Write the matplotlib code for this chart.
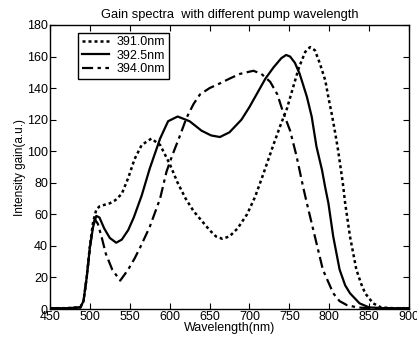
import numpy as np
import matplotlib
matplotlib.use('Agg')
import matplotlib.pyplot as plt

plt.rcParams['font.family'] = ['Liberation Sans', 'DejaVu Sans']

# Dữ liệu
wl_391 = [450, 470, 488, 492, 496, 500, 504, 508, 512, 518, 525, 532, 540, 548, 556, 565,
          577, 588, 600, 610, 620, 630, 640, 650, 658, 666, 675, 685, 697, 707, 717, 730,
          740, 747, 755, 762, 770, 776, 782, 788, 795, 799, 803, 807, 811, 817, 820, 826,
          834, 840, 845, 855, 865, 880, 900]
gain_391 = [0.5, 0.5, 1, 5, 20, 40, 55, 63, 65, 66, 67, 69, 73, 83, 95, 104,
            108, 104, 92, 80, 70, 62, 56, 50, 46, 44.5, 46, 51, 60, 71, 85, 104,
            118, 127, 141, 153, 163, 166, 164, 156, 145, 134, 124, 113, 101, 80, 67, 46,
            25, 16, 10, 3.6, 1, 0.5, 0.5]

wl_392 = [450, 470, 488, 492, 496, 500, 504, 508, 512, 518, 525, 533, 540, 548, 555, 565,
          575, 588, 598, 610, 625, 640, 652, 663, 675, 690, 700, 710, 720, 730, 740, 746,
          751, 757, 763, 772, 778, 784, 791, 795, 799, 805, 813, 820, 826, 838, 850, 870, 900]
gain_392 = [0.5, 0.5, 1, 5, 20, 39, 52, 59, 58, 51, 45, 42, 44, 50, 58, 72,
            89, 108, 119, 122, 119, 113, 110, 109, 112, 120, 128, 137, 146, 153, 159, 161,
            160, 156, 149, 134.5, 122, 103, 88, 77, 67, 46, 25, 15, 10, 3.6, 1, 0.5, 0.5]

wl_394 = [450, 470, 488, 492, 496, 500, 503, 506, 510, 515, 520, 528, 538, 548, 556, 563,
          575, 588, 596, 603, 613, 621, 630, 638, 650, 663, 675, 688, 705, 715, 726, 735,
          742, 751, 759, 767, 772, 782, 792, 805, 813, 822, 835, 850, 900]
gain_394 = [0.5, 0.5, 1, 5, 20, 38, 50, 57, 54, 45, 35, 25, 18, 25, 32, 39,
            52, 70, 87, 97, 110, 121, 130, 136, 140, 143, 146, 149, 151, 149, 144, 136,
            125, 113, 97, 78, 67, 46, 25, 10, 5, 2.5, 1, 0.5, 0.5]

labels = ['391.0nm', '392.5nm', '394.0nm']

fig = plt.figure(figsize=(4.17, 3.41), dpi=100)
ax = fig.add_axes([50 / 417, 1 - 309 / 341, 359 / 417, 284 / 341])

ax.plot(wl_391, gain_391, color='black', linestyle=(0, (1.2, 1.2)), linewidth=1.8, label=labels[0])
ax.plot(wl_392, gain_392, color='black', linestyle='-', linewidth=1.6, label=labels[1])
ax.plot(wl_394, gain_394, color='black', linestyle=(0, (5, 2, 1.5, 2)), linewidth=1.6, label=labels[2])

ax.set_xlim(450, 900)
ax.set_ylim(0, 180)
ax.set_xticks(np.arange(450, 901, 50))
ax.set_yticks(np.arange(0, 181, 20))
ax.tick_params(direction='in', top=True, right=True, length=4, labelsize=9, pad=1.5)

ax.set_title('Gain spectra  with different pump wavelength', fontsize=9.3, pad=5)
ax.set_xlabel('Wavelength(nm)', fontsize=9, labelpad=-1)
ax.set_ylabel('Intensity gain(a.u.)', fontsize=8.5, labelpad=1)

leg = ax.legend(loc='upper left', fontsize=9, fancybox=False, edgecolor='black',
                framealpha=1, handlelength=2.2, borderpad=0.3, labelspacing=0.1,
                handletextpad=0.6, bbox_to_anchor=(0.06, 0.995))
leg.get_frame().set_linewidth(1.0)

for s in ax.spines.values():
    s.set_linewidth(1.0)

plt.savefig('out.png', dpi=100)
